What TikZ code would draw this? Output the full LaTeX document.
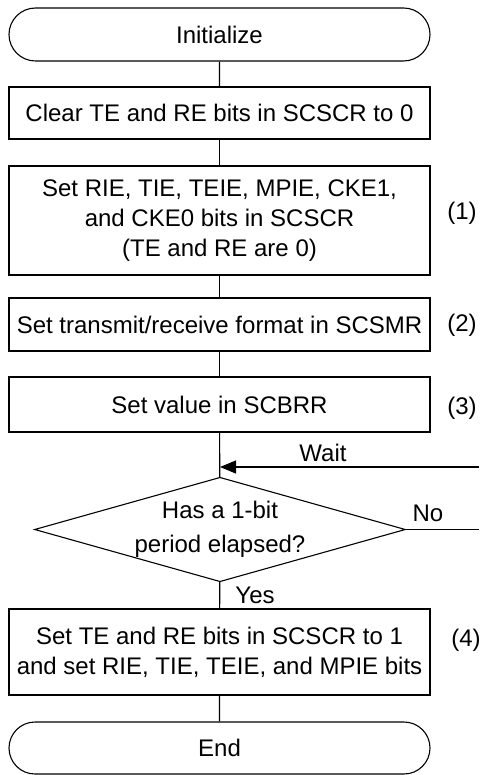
\documentclass[tikz,border=0pt]{standalone}
\usepackage{fontspec}
\setmainfont{Liberation Sans}
\usetikzlibrary{positioning,arrows.meta,shapes.geometric,shapes.misc,calc}
\definecolor{inkline}{HTML}{000000}

\begin{document}
\begin{tikzpicture}[x=0.5pt, y=-0.5pt, line width=0.55pt, draw=inkline,
    every node/.style={font=\fontsize{12}{15}\selectfont, align=center, inner sep=0pt},
    procbox/.style={draw, rectangle, minimum width=210.5pt},
    termbox/.style={draw, rounded rectangle, minimum width=210.5pt, minimum height=26.5pt},
    decbox/.style={draw, diamond, aspect=3.55, minimum width=183pt, minimum height=51.5pt}]
    \useasboundingbox (0,0) rectangle (479,775);

    \node[termbox] (init) at (219.5, 34.5) {Initialize};
    \node[procbox, minimum height=26pt] (clear) at (219.5, 113) {Clear TE and RE bits in SCSCR to 0};
    \node[procbox, minimum height=54.5pt] (setbits) at (219.5, 220.5) {Set RIE, TIE, TEIE, MPIE, CKE1,\\ and CKE0 bits in SCSCR\\ (TE and RE are 0)};
    \node[procbox, minimum height=26.5pt] (format) at (219.5, 324.5) {Set transmit/receive format in SCSMR};
    \node[procbox, minimum height=27.5pt] (brr) at (219.5, 404.5) {Set value in SCBRR};
    \node[decbox] (elapsed) at (220, 529.5) {Has a 1-bit\\[2pt] period elapsed?};
    \node[procbox, minimum height=43pt] (enable) at (219.5, 652) {Set TE and RE bits in SCSCR to 1\\ and set RIE, TIE, TEIE, and MPIE bits};
    \node[termbox, minimum height=26pt] (finish) at (219.5, 748) {End};

    \coordinate (waitin) at (479, 467);
    \coordinate (noout) at (479, 529.5);

    \draw (init) -- (clear);
    \draw (clear) -- (setbits);
    \draw (setbits) -- (format);
    \draw (format) -- (brr);
    \draw (brr) -- (elapsed);
    \draw (elapsed) -- (enable);
    \draw (enable) -- (finish);
    \draw (elapsed.east) -- (noout);
    \draw[-{Triangle[length=8pt, width=6.5pt]}] (waitin) -- (waitin -| elapsed.north);

    \node (waitlbl) at (323, 453) {Wait};
    \node (nolbl) at (428, 513) {No};
    \node (yeslbl) at (255, 595) {Yes};

    \foreach \n/\x/\y in {1/462/213, 2/462/325, 3/462/408, 4/466/640}
        \node (step\n) at (\x, \y) {(\n)};
\end{tikzpicture}
\end{document}
